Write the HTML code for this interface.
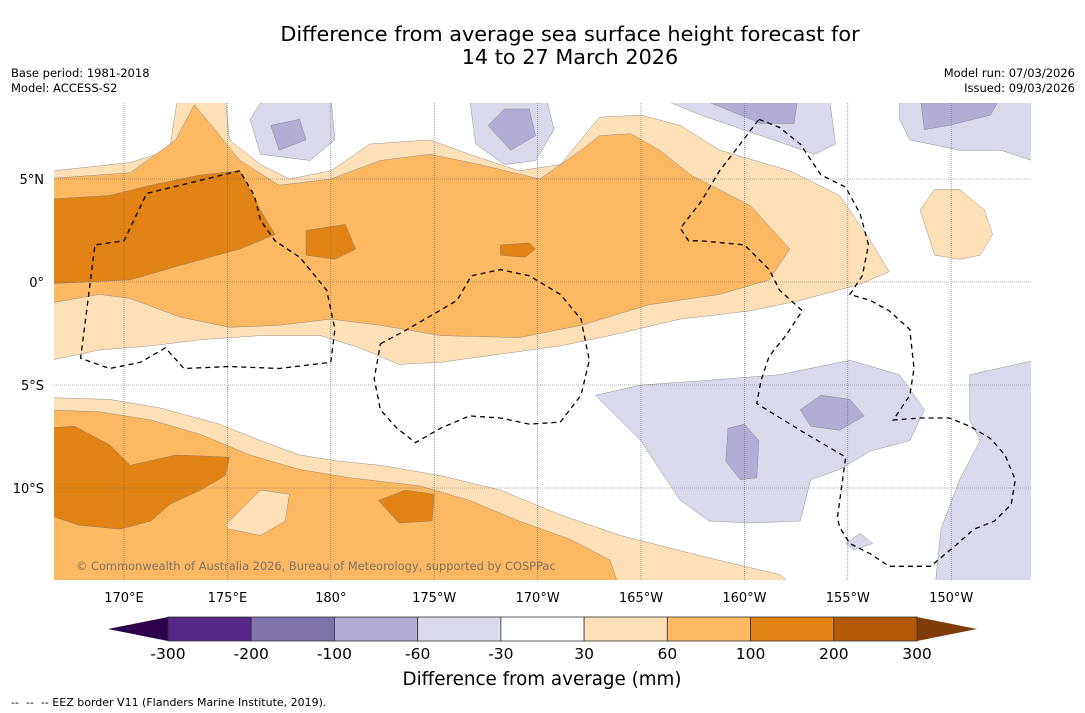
<!DOCTYPE html>
<html><head><meta charset="utf-8">
<style>
body{margin:0;background:#fff;width:1085px;height:713px;overflow:hidden;font-family:"DejaVu Sans","Liberation Sans",sans-serif;}
svg{position:absolute;left:0;top:0}
</style></head>
<body>
<svg id="chart" width="1085" height="713" font-family="DejaVu Sans, Liberation Sans, sans-serif">
<text x="570" y="41" font-size="20.8" text-anchor="middle">Difference from average sea surface height forecast for</text>
<text x="570" y="64" font-size="20.8" text-anchor="middle">14 to 27 March 2026</text>
<text x="11" y="77" font-size="11.5">Base period: 1981-2018</text>
<text x="11" y="92" font-size="11.5">Model: ACCESS-S2</text>
<text x="1075" y="77" font-size="11.5" text-anchor="end">Model run: 07/03/2026</text>
<text x="1075" y="92" font-size="11.5" text-anchor="end">Issued: 09/03/2026</text>
<defs><clipPath id="mapclip"><rect x="54" y="103" width="977" height="477"/></clipPath></defs>
<g id="map" clip-path="url(#mapclip)"></g>
<g id="axes"></g>
<g id="cbar"></g>
<text x="542" y="685" font-size="18.3" text-anchor="middle">Difference from average (mm)</text>
<text x="11" y="706" font-size="11" xml:space="preserve">--  --  -- EEZ border V11 (Flanders Marine Institute, 2019).</text>
</svg>
<script>
const NS="http://www.w3.org/2000/svg";
const lonTicks=[170,175,180,185,190,195,200,205,210];
const lonTickLabels=["170°E","175°E","180°","175°W","170°W","165°W","160°W","155°W","150°W"];
const latTicks=[5,0,-5,-10];
const latTickLabels=["5°N","0°","5°S","10°S"];
const levels=[-300,-200,-100,-60,-30,30,60,100,200,300];
const levelColors=["#542788","#8073ac","#b2abd2","#d8daeb","#ffffff","#fee0b6","#fdb863","#e08214","#b35806"];
const extendColors=["#2d004b","#7f3b08"];
const regionLevels=["light","med","dark","dark","dark","light","med","light","dark","dark","light",
 "lav","lav","lav","lav","lav","lav","lav","pur","pur","pur","pur","pur","pur"];
const regionColorMap={light:"#fee0b6",med:"#fdb863",dark:"#e08214",lav:"#d8daeb",pur:"#b2abd2"};
const regions=[
[[166.6,5.4],[170.3,5.8],[172.2,6.4],[172.6,9],[174.9,9],[175.1,6.9],[176.6,5.7],[178.0,5.0],[180.0,5.4],[181.9,6.7],[184.8,6.9],[186.7,6.2],[189.1,5.4],[191.1,5.7],[193.0,8.0],[195.0,8.1],[196.9,7.6],[198.8,6.4],[202.2,5.4],[204.6,4.2],[206.1,2.0],[207.0,0.5],[205.6,-0.1],[202.7,-0.9],[200.3,-1.4],[196.9,-1.8],[193.5,-2.6],[191.1,-3.1],[188.2,-3.5],[185.3,-3.9],[183.3,-4.0],[181.4,-3.2],[179.5,-2.6],[176.6,-2.6],[173.7,-2.8],[171.3,-3.1],[168.8,-3.3],[166.0,-3.9]],
[[166.0,5.0],[170.3,5.3],[172.5,6.9],[173.4,8.6],[174.4,7.4],[175.6,5.9],[177.5,4.7],[180.0,5.0],[182.4,5.9],[184.8,6.2],[187.2,5.7],[190.1,5.0],[192.1,6.4],[193.0,7.1],[194.5,7.2],[195.9,6.4],[197.4,5.2],[200.3,3.7],[202.2,1.6],[201.2,0.1],[198.8,-0.6],[195.4,-1.1],[192.1,-2.1],[189.1,-2.7],[185.3,-2.6],[182.4,-2.1],[180.0,-1.8],[177.5,-2.1],[175.1,-2.2],[172.7,-1.7],[170.3,-0.8],[168.8,-0.6],[166.0,-1.1]],
[[166.0,4.0],[169.3,4.2],[171.3,4.7],[173.7,5.2],[175.6,5.4],[176.6,3.5],[177.3,2.3],[175.6,1.6],[172.7,0.8],[170.3,0.1],[166.0,-0.1]],
[[178.8,2.5],[180.7,2.8],[181.2,1.6],[180.2,1.1],[178.8,1.3]],
[[188.2,1.8],[189.6,1.9],[189.9,1.6],[189.4,1.2],[188.2,1.3]],
[[166.0,-5.6],[169.3,-5.7],[171.7,-6.1],[174.6,-6.9],[176.6,-7.7],[178.5,-8.4],[180.4,-8.7],[182.4,-8.9],[185.3,-9.4],[188.2,-10.1],[191.1,-11.3],[194.0,-12.3],[197.9,-13.3],[201.7,-14.2],[202.7,-15],[166.0,-15]],
[[166.0,-6.2],[168.8,-6.3],[171.3,-6.7],[173.7,-7.4],[176.1,-8.4],[178.5,-9.1],[180.9,-9.5],[184.3,-9.9],[186.7,-10.6],[189.1,-11.6],[191.6,-12.5],[193.5,-13.5],[194.0,-15],[166.0,-15]],
[[174.9,-11.8],[176.6,-10.1],[178.0,-10.3],[177.8,-11.6],[176.6,-12.3],[175.1,-12.0]],
[[166.0,-7.1],[167.6,-7.0],[169.3,-7.9],[170.3,-8.9],[172.5,-8.4],[175.1,-8.5],[174.9,-9.4],[173.7,-10.1],[172.2,-10.8],[171.3,-11.6],[169.8,-12.0],[167.8,-11.8],[166.0,-11.2]],
[[182.3,-10.6],[183.6,-10.1],[185.0,-10.3],[184.9,-11.6],[183.3,-11.7]],
[[208.5,3.5],[209.2,4.5],[210.4,4.5],[211.6,3.5],[212.0,2.3],[211.4,1.3],[210.4,1.1],[209.2,1.3]],
[[176.1,7.9],[176.8,9],[180.0,9],[180.2,6.9],[179.0,5.9],[176.6,6.2]],
[[186.7,9],[190.4,9],[190.8,7.4],[189.9,5.9],[188.4,5.7],[187.0,6.7]],
[[195.7,9],[204.1,9],[204.4,6.7],[203.4,6.2],[200.8,7.1],[197.9,8.1]],
[[207.5,9],[214.5,9],[214.5,5.7],[212.4,6.4],[210.4,6.4],[208.0,6.9],[207.5,7.9]],
[[192.8,-5.5],[195.0,-5.0],[197.9,-4.8],[201.7,-4.5],[205.1,-3.8],[207.5,-4.5],[208.7,-6.2],[208.0,-7.7],[206.1,-8.2],[204.6,-9.1],[203.2,-9.6],[202.7,-11.6],[200.3,-11.7],[198.3,-11.6],[196.9,-10.6],[195.9,-9.1],[195.0,-7.7],[194.0,-6.7]],
[[210.9,-4.5],[214.5,-3.7],[214.5,-15],[209.2,-15],[209.5,-12.0],[210.4,-9.6],[211.4,-7.7],[210.9,-6.7]],
[[204.9,-12.7],[205.6,-12.2],[206.2,-12.7],[205.3,-13.0]],
[[177.1,7.6],[178.5,7.9],[178.8,6.9],[177.5,6.4]],
[[187.6,7.6],[188.4,8.4],[189.6,8.4],[189.9,7.1],[188.7,6.4]],
[[197.6,9],[202.6,9],[202.4,7.7],[200.8,7.7]],
[[208.5,9],[212.4,9],[211.9,8.1],[209.9,7.6],[208.7,7.4]],
[[202.7,-6.2],[203.7,-5.5],[205.1,-5.7],[205.8,-6.5],[204.6,-7.2],[203.2,-7.0]],
[[199.2,-7.1],[200.0,-6.9],[200.7,-7.7],[200.6,-9.5],[199.8,-9.6],[199.1,-8.7]]
];
const eezLines=[
[[175.6,5.4],[171.1,4.3],[170.0,2.0],[168.6,1.8],[167.9,-3.7],[169.3,-4.2],[170.8,-3.9],[172.0,-3.2],[172.9,-4.2],[175.1,-4.1],[177.5,-4.2],[180.0,-3.9],[180.2,-2.3],[179.8,-0.4],[178.5,1.2],[177.3,2.0],[176.6,3.0],[176.3,4.2],[175.6,5.4]],
[[182.4,-3.0],[183.7,-2.3],[186.1,-0.9],[186.8,0.3],[188.2,0.6],[189.6,0.3],[191.1,-0.6],[192.1,-1.8],[192.5,-3.8],[192.1,-5.5],[191.1,-6.8],[189.6,-6.9],[188.2,-6.6],[186.7,-6.5],[185.3,-7.1],[184.1,-7.8],[183.2,-7.1],[182.4,-6.2],[182.1,-4.7],[182.4,-3.0]],
[[200.7,7.9],[201.7,7.5],[202.7,6.7],[203.7,5.2],[204.9,4.6],[205.6,3.3],[206.0,1.8],[205.7,0.3],[205.1,-0.6],[206.1,-0.9],[207.0,-1.4],[208.0,-2.3],[208.2,-4.2],[208.0,-5.5],[207.2,-6.7],[208.5,-6.6],[209.9,-6.6],[210.9,-7.0],[211.9,-7.6],[212.6,-8.4],[213.1,-9.6],[212.9,-10.8],[212.1,-11.6],[211.1,-12.0],[210.2,-12.8],[209.0,-13.8],[207.0,-13.8],[206.1,-13.2],[205.1,-12.7],[204.6,-11.9],[204.5,-11.4],[204.9,-8.5],[202.7,-7.2],[200.6,-5.9],[200.8,-4.8],[201.2,-3.6],[202.0,-2.6],[202.8,-1.4],[201.7,-0.4],[201.2,0.6],[200.0,1.8],[197.9,2.0],[197.3,2.0],[196.9,2.6],[197.9,3.9],[198.8,5.4],[199.8,6.7],[200.7,7.9]]
];
const X0=124,DX=20.68,Y0=282,DY=20.6;
const xs=lon=>X0+(lon-170)*DX;
const ys=lat=>Y0-lat*DY;
const map=document.getElementById('map');
const bg=document.createElementNS(NS,'rect');
bg.setAttribute('x',54);bg.setAttribute('y',103);bg.setAttribute('width',977);bg.setAttribute('height',477);bg.setAttribute('fill','#fff');


map.appendChild(bg);
regions.forEach((poly,i)=>{
  const p=document.createElementNS(NS,'polygon');
  p.setAttribute('points',poly.map(q=>xs(q[0]).toFixed(1)+','+ys(q[1]).toFixed(1)).join(' '));
  p.setAttribute('fill',regionColorMap[regionLevels[i]]);
  p.setAttribute('stroke','#777');p.setAttribute('stroke-width','0.4');
  p.setAttribute('stroke-linejoin','round');
  
  
  map.appendChild(p);
});
lonTicks.forEach((lon,i)=>{
  const l=document.createElementNS(NS,'line');
  l.setAttribute('x1',xs(lon));l.setAttribute('x2',xs(lon));l.setAttribute('y1',103);l.setAttribute('y2',580);
  l.setAttribute('stroke','#666');l.setAttribute('stroke-width','0.6');l.setAttribute('stroke-dasharray','1,1');
  
  
  map.appendChild(l);
});
latTicks.forEach((lat,i)=>{
  const l=document.createElementNS(NS,'line');
  l.setAttribute('y1',ys(lat));l.setAttribute('y2',ys(lat));l.setAttribute('x1',54);l.setAttribute('x2',1031);
  l.setAttribute('stroke','#666');l.setAttribute('stroke-width','0.6');l.setAttribute('stroke-dasharray','1,1');
  
  
  map.appendChild(l);
});
eezLines.forEach((line,i)=>{
  const p=document.createElementNS(NS,'polyline');
  p.setAttribute('points',line.map(q=>xs(q[0]).toFixed(1)+','+ys(q[1]).toFixed(1)).join(' '));
  p.setAttribute('fill','none');p.setAttribute('stroke','#000');p.setAttribute('stroke-width','1.3');p.setAttribute('stroke-dasharray','5,4');
  
  
  map.appendChild(p);
});
const cr=document.createElementNS(NS,'text');
cr.setAttribute('x',76);cr.setAttribute('y',570);cr.setAttribute('font-size','11.4');cr.setAttribute('fill','#666');cr.setAttribute('fill-opacity','0.85');
cr.textContent='© Commonwealth of Australia 2026, Bureau of Meteorology, supported by COSPPac';


map.appendChild(cr);
const axes=document.getElementById('axes');
lonTicks.forEach((lon,i)=>{
  const t=document.createElementNS(NS,'text');
  t.setAttribute('x',xs(lon));t.setAttribute('y',602);t.setAttribute('font-size','13');t.setAttribute('text-anchor','middle');
  t.textContent=lonTickLabels[i];
  
  
  axes.appendChild(t);
});
latTicks.forEach((lat,i)=>{
  const t=document.createElementNS(NS,'text');
  t.setAttribute('x',44);t.setAttribute('y',ys(lat)+5);t.setAttribute('font-size','13');t.setAttribute('text-anchor','end');
  t.textContent=latTickLabels[i];
  
  
  axes.appendChild(t);
});
const cb=document.getElementById('cbar');
const cbX0=168,cbX1=917,cbY=617,cbH=24,ext=60;
const segW=(cbX1-cbX0)/levelColors.length;
const lt=document.createElementNS(NS,'polygon');
lt.setAttribute('points',`${cbX0},${cbY} ${cbX0-ext},${cbY+cbH/2} ${cbX0},${cbY+cbH}`);
lt.setAttribute('fill',extendColors[0]);


cb.appendChild(lt);
const rt=document.createElementNS(NS,'polygon');
rt.setAttribute('points',`${cbX1},${cbY} ${cbX1+ext},${cbY+cbH/2} ${cbX1},${cbY+cbH}`);
rt.setAttribute('fill',extendColors[1]);


cb.appendChild(rt);
levelColors.forEach((c,i)=>{
  const r=document.createElementNS(NS,'rect');
  r.setAttribute('x',cbX0+i*segW);r.setAttribute('y',cbY);r.setAttribute('width',segW);r.setAttribute('height',cbH);
  r.setAttribute('fill',c);r.setAttribute('stroke','#333');r.setAttribute('stroke-width','0.8');
  
  
  cb.appendChild(r);
});
levels.forEach((v,i)=>{
  const t=document.createElementNS(NS,'text');
  t.setAttribute('x',cbX0+i*segW);t.setAttribute('y',659);t.setAttribute('font-size','15.5');t.setAttribute('text-anchor','middle');
  t.textContent=String(v);
  
  
  cb.appendChild(t);
});
</script>
</body></html>
